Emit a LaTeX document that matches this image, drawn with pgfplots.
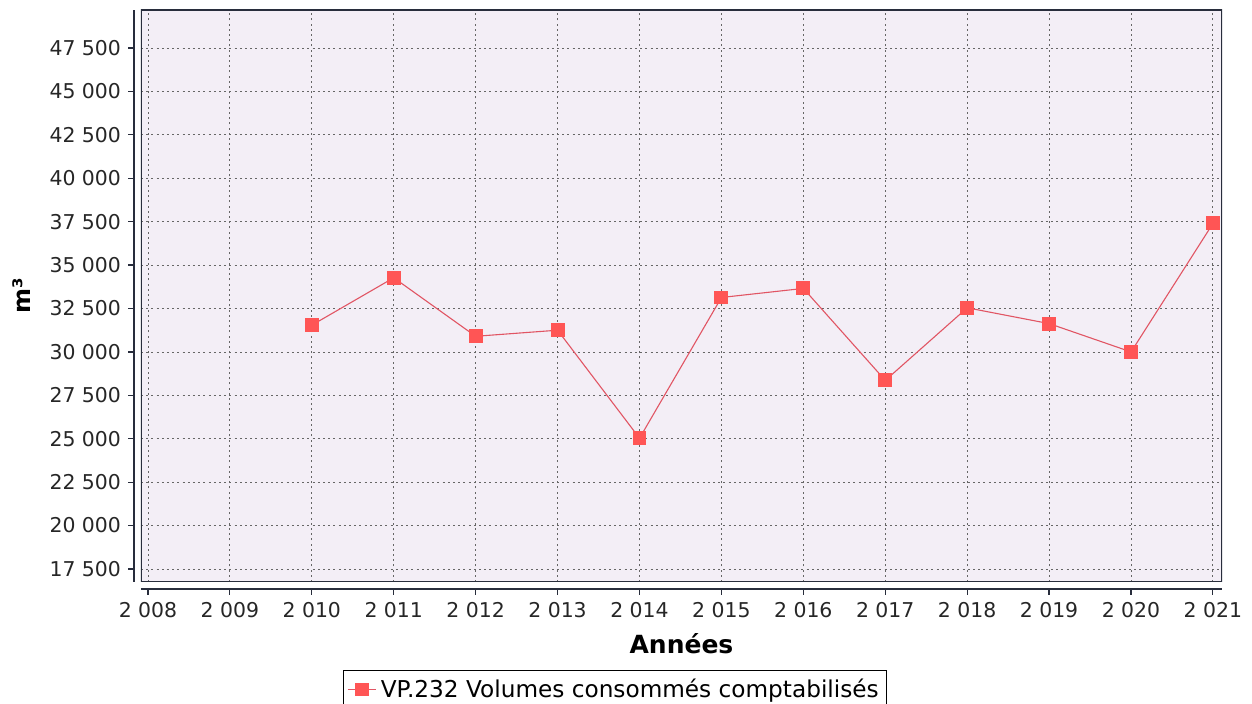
\documentclass[border=0pt]{standalone}
\usepackage{fontspec}
\setmainfont{DejaVu Sans}
\usepackage{pgfplots}
\pgfplotsset{compat=1.18}
\definecolor{bgc}{RGB}{243,238,246}
\definecolor{ser}{RGB}{255,85,85}
\definecolor{serl}{RGB}{225,85,100}
\definecolor{frm}{RGB}{40,45,60}
\begin{document}
\begin{tikzpicture}
\useasboundingbox (-70.5pt,-61pt) rectangle (555.5pt,291pt);
\begin{axis}[
  at={(0,0)}, anchor=south west,
  scale only axis, width=540.5pt, height=286pt,
  xmin=2007.915, xmax=2021.11, ymin=16751, ymax=49690,
  xtick={2008,...,2021}, ytick={17500,20000,...,47500},
  axis lines*=left,
  axis x line shift=3.5pt, axis y line shift=3.5pt,
  grid=major,
  major grid style={dash pattern=on 1pt off 1.6pt, gray!80!black, line width=0.4pt},
  tick style={frm, line width=0.6pt}, major tick length=3pt, tick align=outside,
  axis line style={frm, line width=0.8pt},
  axis background/.style={fill=bgc},
  /pgf/number format/1000 sep={\ },
  /pgf/number format/assume math mode=true,
  scaled y ticks=false, scaled x ticks=false,
  tick label style={font=\fontsize{10.2}{12}\selectfont, text=black!85},
  xlabel={Années}, ylabel={m³},
  xlabel style={font=\bfseries\fontsize{12.5}{14}\selectfont, yshift=-1pt},
  ylabel style={font=\bfseries\fontsize{12}{14}\selectfont, yshift=2.5pt},
  legend style={at={(0.4385,-0.154)}, anchor=north, draw=black, line width=0.6pt, fill=white,
    font=\fontsize{11.6}{13}\selectfont, inner sep=2pt},
  legend image code/.code={\draw[mark repeat=2,mark phase=2,#1] plot coordinates {(0cm,0cm) (0.25cm,0cm) (0.5cm,0cm)};},
]
\addplot[serl, line width=0.55pt, mark=square*, mark size=3.2pt, mark options={draw=ser, fill=ser}]
coordinates {
(2010,31540) (2011,34270) (2012,30900) (2013,31250) (2014,25030) (2015,33135)
(2016,33655) (2017,28360) (2018,32540) (2019,31630) (2020,30000) (2021,37400)
};
\addlegendentry{VP.232 Volumes consommés comptabilisés}
\draw[frm, line width=1pt] (rel axis cs:0,0) rectangle (rel axis cs:1,1);
\end{axis}
\end{tikzpicture}
\end{document}
